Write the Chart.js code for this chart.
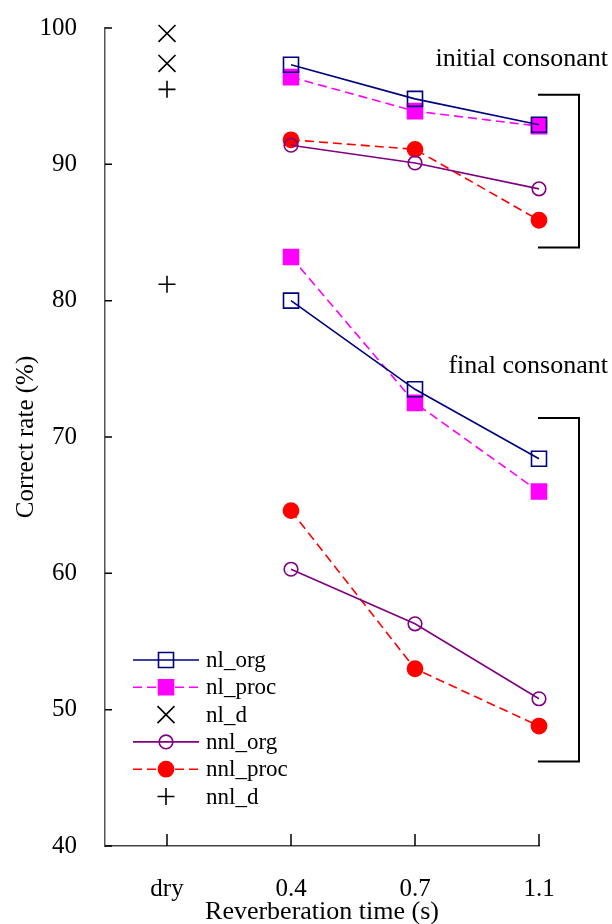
<!DOCTYPE html>
<html>
<head>
<meta charset="utf-8">
<script src="https://cdn.jsdelivr.net/npm/chart.js@4.4.1/dist/chart.umd.min.js"></script>
<style>
  html, body { margin: 0; padding: 0; background: #fff; }
  canvas { display: block; }
</style>
</head>
<body>
<canvas id="chart" width="612" height="924"></canvas>
<script>
// x categories (index 0 = dry, 1..3 = reverberation times)
const categories = ["dry", "0.4", "0.7", "1.1"];
const reverbIdx = [1, 2, 3];
const yTickValues = [40, 50, 60, 70, 80, 90, 100];

// initial consonant
const nlOrgInitial = [97.3, 94.8, 92.9];
const nlProcInitial = [96.4, 93.9, 92.8];
const nnlOrgInitial = [91.4, 90.1, 88.2];
const nnlProcInitial = [91.8, 91.1, 85.9];
// final consonant
const nlOrgFinal = [80.0, 73.5, 68.4];
const nlProcFinal = [83.2, 72.5, 66.0];
const nnlOrgFinal = [60.3, 56.3, 50.8];
const nnlProcFinal = [64.6, 53.0, 48.8];
// dry condition
const nlDry = [99.6, 97.4];
const nnlDry = [95.5, 81.2];

const FONT = "'Liberation Serif', 'Times New Roman', serif";

function pts(values) {
    return values.map((v, i) => ({ x: reverbIdx[i], y: v }));
}
function dryPts(values) {
    return values.map(v => ({ x: 0, y: v }));
}

const styles = {
    nl_org: { borderColor: "#000080", pointStyle: "rect", pointRadius: 10.6, pointBackgroundColor: "rgba(0,0,0,0)", pointBorderColor: "#000080", borderDash: [] },
    nl_proc: { borderColor: "#ff00ff", pointStyle: "rect", pointRadius: 10.6, pointBackgroundColor: "#ff00ff", pointBorderColor: "#ff00ff", borderDash: [9, 5] },
    nl_d: { borderColor: "#000", pointStyle: "crossRot", pointRadius: 12, pointBackgroundColor: "#000", pointBorderColor: "#000", showLine: false },
    nnl_org: { borderColor: "#800080", pointStyle: "circle", pointRadius: 6.8, pointBackgroundColor: "rgba(0,0,0,0)", pointBorderColor: "#800080", borderDash: [] },
    nnl_proc: { borderColor: "#ff0000", pointStyle: "circle", pointRadius: 7.6, pointBackgroundColor: "#ff0000", pointBorderColor: "#ff0000", borderDash: [9, 5] },
    nnl_d: { borderColor: "#000", pointStyle: "cross", pointRadius: 8.5, pointBackgroundColor: "#000", pointBorderColor: "#000", showLine: false },
};

function ds(label, data) {
    return Object.assign({
        label: label,
        data: data,
        borderWidth: 1.6,
        pointBorderWidth: 1.6,
        fill: false,
        clip: false,
    }, styles[label]);
}

const datasets = [
    ds("nl_org", pts(nlOrgInitial)),
    ds("nl_proc", pts(nlProcInitial)),
    ds("nl_d", dryPts(nlDry)),
    ds("nnl_org", pts(nnlOrgInitial)),
    ds("nnl_proc", pts(nnlProcInitial)),
    ds("nnl_d", dryPts(nnlDry)),
    ds("nl_org", pts(nlOrgFinal)),
    ds("nl_proc", pts(nlProcFinal)),
    ds("nnl_org", pts(nnlOrgFinal)),
    ds("nnl_proc", pts(nnlProcFinal)),
];

// brackets + labels for the two consonant groups (values on the y scale)
const groups = [
    { label: "initial consonant", labelY: 97.2, top: 95.1, bottom: 83.9 },
    { label: "final consonant", labelY: 74.7, top: 71.4, bottom: 46.2 },
];

const extras = {
    id: "extras",
    afterDraw(chart) {
        const { ctx, chartArea } = chart;
        const x = chart.scales.x, y = chart.scales.y;
        ctx.save();
        ctx.strokeStyle = "#000";
        ctx.lineWidth = 1.5;
        ctx.setLineDash([]);

        // inward tick marks
        ctx.beginPath();
        y.ticks.forEach(t => {
            const py = y.getPixelForValue(t.value);
            ctx.moveTo(chartArea.left, py);
            ctx.lineTo(chartArea.left + 7, py);
        });
        x.ticks.forEach(t => {
            const px = x.getPixelForValue(t.value);
            ctx.moveTo(px, chartArea.bottom);
            ctx.lineTo(px, chartArea.bottom - 12);
        });
        ctx.stroke();

        // brackets
        ctx.lineWidth = 2;
        const bx0 = x.getPixelForValue(3) - 1;
        const bx1 = bx0 + 41;
        ctx.font = "26px " + FONT;
        ctx.fillStyle = "#000";
        ctx.textAlign = "right";
        ctx.textBaseline = "alphabetic";
        groups.forEach(g => {
            const t = y.getPixelForValue(g.top), b = y.getPixelForValue(g.bottom);
            ctx.beginPath();
            ctx.moveTo(bx0, t);
            ctx.lineTo(bx1, t);
            ctx.lineTo(bx1, b);
            ctx.lineTo(bx0, b);
            ctx.stroke();
            ctx.fillText(g.label, 608, y.getPixelForValue(g.labelY));
        });

        // legend inside plot
        const lx0 = 133, lx1 = 199, lmid = 166, tx = 206;
        let ly = 660;
        ctx.font = "23px " + FONT;
        ctx.textAlign = "left";
        ctx.textBaseline = "middle";
        chart.data.datasets.slice(0, 6).forEach(d => {
            ctx.lineWidth = d.borderWidth;
            ctx.strokeStyle = d.borderColor;
            if (d.showLine !== false) {
                ctx.setLineDash(d.borderDash || []);
                ctx.beginPath();
                ctx.moveTo(lx0, ly);
                ctx.lineTo(lx1, ly);
                ctx.stroke();
            }
            ctx.setLineDash([]);
            ctx.fillStyle = d.pointBackgroundColor;
            ctx.strokeStyle = d.pointBorderColor;
            ctx.lineWidth = d.pointBorderWidth;
            Chart.helpers.drawPoint(ctx, {
                pointStyle: d.pointStyle,
                radius: d.pointRadius,
                borderWidth: d.pointBorderWidth,
                rotation: 0,
            }, lmid, ly);
            ctx.fillStyle = "#000";
            ctx.fillText(d.label, tx, ly + 1);
            ly += 27.3;
        });
        ctx.restore();
    },
};

new Chart(document.getElementById("chart").getContext("2d"), {
    type: "line",
    data: { datasets: datasets },
    plugins: [extras],
    options: {
        responsive: false,
        animation: false,
        events: [],
        layout: { padding: { top: 28, right: 73, left: 0, bottom: 0 } },
        plugins: {
            legend: { display: false },
            tooltip: { enabled: false },
        },
        scales: {
            x: {
                type: "linear",
                min: -0.5,
                max: 3,
                afterBuildTicks: s => { s.ticks = categories.map((c, i) => ({ value: i })); },
                afterFit: s => { s.height = 78; },
                grid: { display: true, drawOnChartArea: false, drawTicks: false },
                border: { display: true, color: "#444", width: 1.5 },
                ticks: {
                    padding: 28,
                    color: "#000",
                    font: { family: FONT, size: 25 },
                    callback: v => categories[v],
                },
                title: {
                    display: true,
                    text: "Reverberation time (s)",
                    color: "#000",
                    font: { family: FONT, size: 26, lineHeight: 1 },
                    padding: { top: 0, bottom: -1 },
                },
            },
            y: {
                min: 40,
                max: 100,
                afterBuildTicks: s => { s.ticks = yTickValues.map(v => ({ value: v })); },
                afterFit: s => { s.width = 105; s.paddingTop = 0; s.paddingBottom = 0; },
                grid: { display: true, drawOnChartArea: false, drawTicks: false },
                border: { display: true, color: "#555", width: 1.5 },
                ticks: {
                    padding: 28,
                    color: "#000",
                    font: { family: FONT, size: 25 },
                },
                title: {
                    display: true,
                    text: "Correct rate (%)",
                    color: "#000",
                    font: { family: FONT, size: 25, lineHeight: 1 },
                    padding: { top: 14, bottom: 0 },
                },
            },
        },
    },
});
</script>
</body>
</html>
